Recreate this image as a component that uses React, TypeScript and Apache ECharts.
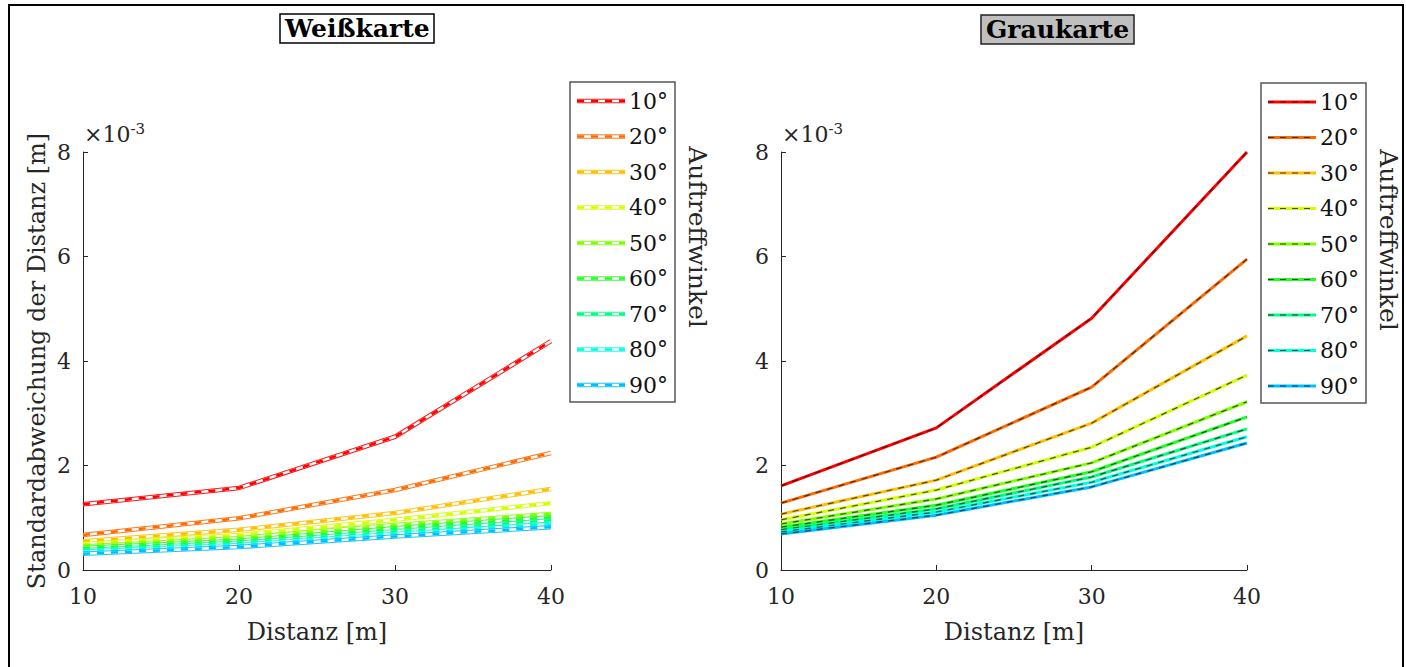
import React, { useEffect, useRef } from "react";
import * as echarts from "echarts";

// Distances (x axis) and angles (legend)
const distances = [10, 20, 30, 40];
const angles = ["10°", "20°", "30°", "40°", "50°", "60°", "70°", "80°", "90°"];
const colors = ["#ff0000", "#ff6a00", "#ffbf00", "#d0ff00", "#80ff00", "#22ff22", "#00ff80", "#00ffdd", "#00bfff"];

// Standard deviation (×10^-3 m), Weißkarte
const w10 = [1.26, 1.57, 2.55, 4.38];
const w20 = [0.67, 0.99, 1.53, 2.24];
const w30 = [0.55, 0.77, 1.09, 1.55];
const w40 = [0.5, 0.67, 0.96, 1.28];
const w50 = [0.45, 0.61, 0.86, 1.07];
const w60 = [0.42, 0.56, 0.8, 1.01];
const w70 = [0.38, 0.52, 0.74, 0.95];
const w80 = [0.35, 0.48, 0.69, 0.88];
const w90 = [0.31, 0.44, 0.64, 0.82];

// Standard deviation (×10^-3 m), Graukarte
const g10 = [1.61, 2.72, 4.82, 8.0];
const g20 = [1.28, 2.16, 3.5, 5.95];
const g30 = [1.07, 1.72, 2.81, 4.48];
const g40 = [0.96, 1.53, 2.35, 3.73];
const g50 = [0.88, 1.36, 2.05, 3.22];
const g60 = [0.82, 1.24, 1.88, 2.93];
const g70 = [0.77, 1.17, 1.78, 2.7];
const g80 = [0.73, 1.11, 1.68, 2.55];
const g90 = [0.69, 1.05, 1.59, 2.43];

const whiteSeries = [w10, w20, w30, w40, w50, w60, w70, w80, w90];
const greySeries = [g10, g20, g30, g40, g50, g60, g70, g80, g90];

const FONT = "DejaVu Serif";
const TXT = "#262626";

function pairs(vals: number[]) {
  return distances.map((d, i) => [d, vals[i]]);
}

export default function App() {
  const ref = useRef<HTMLDivElement>(null);
  useEffect(() => {
    if (!ref.current) return;
    const chart = echarts.init(ref.current, undefined, { renderer: "svg" });

    const series: any[] = [];
    whiteSeries.forEach((vals, i) => {
      const d = pairs(vals);
      series.push({ type: "line", name: angles[i], xAxisIndex: 0, yAxisIndex: 0, data: d, symbol: "none", lineStyle: { color: colors[i], width: 4.5, opacity: 0.9 }, z: 2 + i * 3 });
      series.push({ type: "line", name: angles[i] + " w", xAxisIndex: 0, yAxisIndex: 0, data: d, symbol: "none", lineStyle: { color: "#ffffff", width: 2.5 }, z: 3 + i * 3 });
      series.push({ type: "line", name: angles[i] + " d", xAxisIndex: 0, yAxisIndex: 0, data: d, symbol: "none", lineStyle: { color: colors[i], width: 2.5, type: [7, 7] }, z: 4 + i * 3 });
    });
    greySeries.forEach((vals, i) => {
      const d = pairs(vals);
      series.push({ type: "line", name: angles[i] + " g", xAxisIndex: 1, yAxisIndex: 1, data: d, symbol: "none", lineStyle: { color: colors[i], width: 3 }, z: 2 + i * 2 });
      series.push({ type: "line", name: angles[i] + " gd", xAxisIndex: 1, yAxisIndex: 1, data: d, symbol: "none", lineStyle: { color: "#1a1a1a", width: 1.2, opacity: 0.75, type: [6, 6] }, z: 3 + i * 2 });
    });

    const xAxisBase = (gridIndex: number) => ({
      type: "value",
      gridIndex,
      min: 10,
      max: 40,
      interval: 10,
      axisLine: { lineStyle: { color: TXT, width: 1 } },
      axisTick: { inside: true, length: 5, lineStyle: { color: TXT } },
      axisLabel: { color: TXT, fontFamily: FONT, fontSize: 22, margin: 15 },
      splitLine: { show: false },
      name: "Distanz [m]",
      nameLocation: "middle",
      nameGap: 50,
      nameTextStyle: { color: TXT, fontFamily: FONT, fontSize: 24 },
    });
    const yAxisBase = (gridIndex: number, withName: boolean) => ({
      type: "value",
      gridIndex,
      min: 0,
      max: 8,
      interval: 2,
      axisLine: { show: true, lineStyle: { color: TXT, width: 1 } },
      axisTick: { show: true, inside: true, length: 5, lineStyle: { color: TXT } },
      axisLabel: { color: TXT, fontFamily: FONT, fontSize: 22, margin: 12 },
      splitLine: { show: false },
      name: withName ? "Standardabweichung der Distanz [m]" : "",
      nameLocation: "middle",
      nameRotate: 90,
      nameGap: 34,
      nameTextStyle: { color: TXT, fontFamily: FONT, fontSize: 24 },
    });

    const legendGraphic = (x0: number, y0: number, grey: boolean) => {
      const children: any[] = [
        { type: "rect", shape: { x: 0, y: 0, width: 105, height: 320 }, style: { fill: "#fff", stroke: "#555", lineWidth: 1.5 } },
      ];
      angles.forEach((a, i) => {
        const y = 19 + i * 35.5;
        if (grey) {
          children.push({ type: "line", shape: { x1: 7, y1: y, x2: 55, y2: y }, style: { stroke: colors[i], lineWidth: 3 } });
          children.push({ type: "line", shape: { x1: 7, y1: y, x2: 55, y2: y }, style: { stroke: "#1a1a1a", lineWidth: 1.2, opacity: 0.8, lineDash: [6, 6] } });
        } else {
          children.push({ type: "line", shape: { x1: 7, y1: y, x2: 55, y2: y }, style: { stroke: colors[i], lineWidth: 4.5, opacity: 0.9 } });
          children.push({ type: "line", shape: { x1: 7, y1: y, x2: 55, y2: y }, style: { stroke: "#fff", lineWidth: 2.5 } });
          children.push({ type: "line", shape: { x1: 7, y1: y, x2: 55, y2: y }, style: { stroke: colors[i], lineWidth: 2.5, lineDash: [7, 7] } });
        }
        children.push({ type: "text", x: 59, y, style: { text: a, fill: "#111", font: `22px '${FONT}'`, verticalAlign: "middle", textAlign: "left" } });
      });
      return { type: "group", x: x0, y: y0, children };
    };

    const exponent = (x: number) => ({
      type: "text",
      x,
      y: 134,
      style: {
        text: "{a|×10}{b|-3}",
        verticalAlign: "middle",
        rich: {
          a: { fontFamily: FONT, fontSize: 22, fill: TXT, color: TXT },
          b: { fontFamily: FONT, fontSize: 15, fill: TXT, color: TXT, verticalAlign: "top", padding: [0, 0, 10, 0] },
        },
      },
    });

    const option: any = {
      animation: false,
      backgroundColor: "#fff",
      title: [
        {
          text: "Weißkarte",
          left: 280,
          top: 14,
          padding: [2, 5, 2, 5],
          backgroundColor: "#fff",
          borderColor: "#000",
          borderWidth: 1.5,
          textStyle: { fontFamily: FONT, fontWeight: "bold", fontSize: 25, color: "#000" },
        },
        {
          text: "Graukarte",
          left: 981,
          top: 15,
          padding: [2, 5, 2, 5],
          backgroundColor: "#bfbfbf",
          borderColor: "#222",
          borderWidth: 1.5,
          textStyle: { fontFamily: FONT, fontWeight: "bold", fontSize: 25, color: "#000" },
        },
      ],
      grid: [
        { left: 83, top: 152, width: 468, height: 418 },
        { left: 781, top: 152, width: 466, height: 418 },
      ],
      xAxis: [xAxisBase(0), xAxisBase(1)],
      yAxis: [yAxisBase(0, true), yAxisBase(1, false)],
      series,
      graphic: [
        { type: "polyline", shape: { points: [[9, 700], [9, 5], [1403, 5], [1403, 700]] }, style: { stroke: "#000", lineWidth: 2, fill: "none" }, silent: true },
        legendGraphic(570, 82, false),
        legendGraphic(1261, 83, true),
        { type: "text", x: 697, y: 237, rotation: -Math.PI / 2, style: { text: "Auftreffwinkel", fill: TXT, font: `25px '${FONT}'`, textAlign: "center", verticalAlign: "middle" } },
        { type: "text", x: 1388, y: 240, rotation: -Math.PI / 2, style: { text: "Auftreffwinkel", fill: TXT, font: `25px '${FONT}'`, textAlign: "center", verticalAlign: "middle" } },
        exponent(84),
        exponent(782),
      ],
    };
    chart.setOption(option);
    return () => chart.dispose();
  }, []);
  return <div ref={ref} style={{ position: "fixed", left: 0, top: 0, width: 1406, height: 667 }} />;
}
